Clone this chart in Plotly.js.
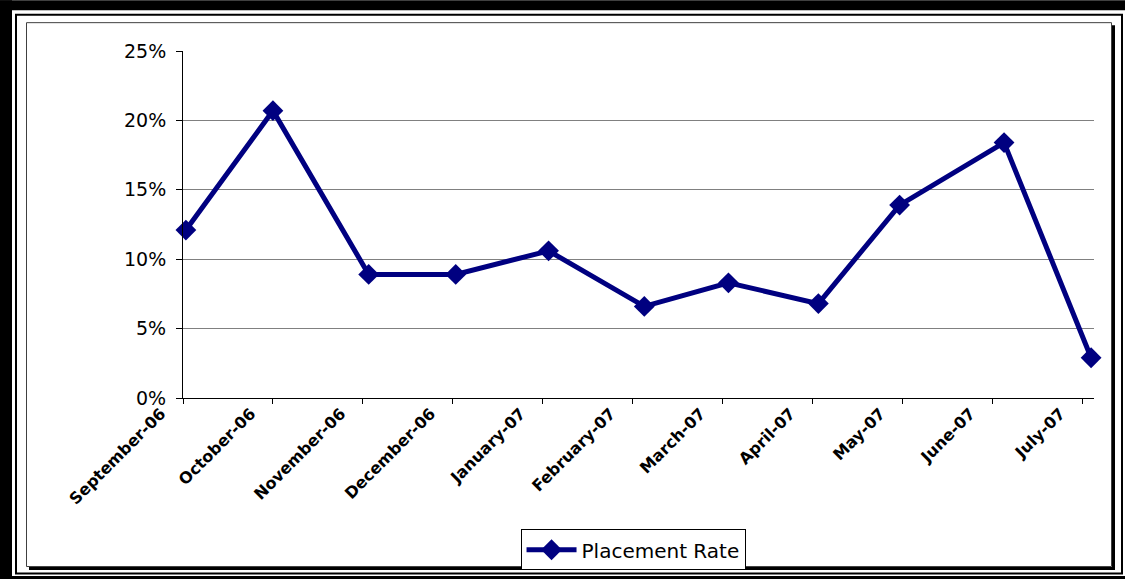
<!DOCTYPE html>
<html>
<head>
<meta charset="utf-8">
<script src="https://cdn.plot.ly/plotly-3.0.1.min.js"></script>
<style>
  html, body { margin: 0; padding: 0; background: #ffffff; }
  #chart { width: 1125px; height: 582px; }
</style>
</head>
<body>
<div id="chart"></div>
<script>
// Monthly placement rate, one reading per month
const reportDates = ['2006-09-02', '2006-10-02', '2006-11-04', '2006-12-04', '2007-01-05',
                     '2007-02-07', '2007-03-08', '2007-04-08', '2007-05-06', '2007-06-11', '2007-07-11'];
const placementRate = [0.121, 0.207, 0.089, 0.089, 0.106, 0.066, 0.083, 0.068, 0.139, 0.184, 0.029];

// Axis ticks, one every 31 days
const tickDates = ['2006-09-01', '2006-10-02', '2006-11-02', '2006-12-03', '2007-01-03', '2007-02-03',
                   '2007-03-06', '2007-04-06', '2007-05-07', '2007-06-07', '2007-07-08'];
const tickLabels = ['September-06', 'October-06', 'November-06', 'December-06', 'January-07', 'February-07',
                    'March-07', 'April-07', 'May-07', 'June-07', 'July-07'];
const seriesName = 'Placement Rate';

const W = 1125, H = 582;
const M = { l: 183, r: 31, t: 51, b: 182 };
const PW = W - M.l - M.r, PH = H - M.t - M.b;
const px = v => (v - M.l) / PW;
const py = v => (H - M.b - v) / PH;

// Frame lines around the chart (page pixels converted to paper units), drawn beneath the plot
function rect(x0, y0, x1, y1, color, width) {
  return { type: 'rect', xref: 'paper', yref: 'paper', layer: 'below',
           x0: px(x0), x1: px(x1), y0: py(y0), y1: py(y1),
           line: { color: color, width: width }, fillcolor: 'rgba(0,0,0,0)' };
}
function bar(x0, y0, x1, y1, color) {
  return { type: 'rect', xref: 'paper', yref: 'paper', layer: 'below',
           x0: px(x0), x1: px(x1), y0: py(y0), y1: py(y1),
           line: { width: 0 }, fillcolor: color };
}
const frame = [
  bar(0, 0, 1125, 10, '#000000'),
  bar(0, 0, 12, 582, '#000000'),
  bar(0, 579, 1125, 582, '#000000'),
  rect(16, 14.5, 1122, 576.5, '#000000', 2),
  // chart area border with its drop shadow
  bar(29, 25, 1115, 573, '#000000'),
  bar(26, 22, 1112, 570, '#ffffff'),
  rect(26.5, 22.5, 1111.5, 569.5, '#404040', 1)
];

const trace = {
  x: reportDates,
  y: placementRate,
  type: 'scatter',
  mode: 'lines+markers',
  name: seriesName,
  line: { color: '#000080', width: 5 },
  marker: { symbol: 'diamond', size: 16, color: '#000080' },
  cliponaxis: false
};

const layout = {
  width: W, height: H,
  margin: M,
  paper_bgcolor: '#ffffff',
  plot_bgcolor: 'rgba(0,0,0,0)',
  showlegend: true,
  font: { family: 'DejaVu Sans, Arial, sans-serif', color: '#000000' },
  xaxis: {
    type: 'date',
    range: ['2006-09-01', '2007-07-12'],
    tickmode: 'array',
    tickvals: tickDates,
    ticktext: tickLabels,
    tickangle: -45,
    ticklabelshift: -22,
    ticklabelstandoff: -6,
    tickfont: { family: 'DejaVu Sans, Arial, sans-serif', size: 16, weight: 'bold', color: '#000000' },
    ticks: 'outside', ticklen: 5, tickcolor: '#000000', tickwidth: 1,
    showline: true, linecolor: '#000000', linewidth: 1,
    showgrid: false, zeroline: false,
    fixedrange: true
  },
  yaxis: {
    range: [0, 0.25],
    dtick: 0.05,
    tickformat: '.0%',
    tickfont: { family: 'DejaVu Sans, Arial, sans-serif', size: 19, color: '#000000' },
    ticks: 'outside', ticklen: 6, tickcolor: '#000000', tickwidth: 1,
    ticklabelstandoff: 6,
    showline: true, linecolor: '#000000', linewidth: 1,
    showgrid: true, gridcolor: '#808080', gridwidth: 1,
    zeroline: false,
    fixedrange: true
  },
  legend: {
    orientation: 'h',
    x: 0.494, xanchor: 'center',
    y: py(532), yanchor: 'top',
    bgcolor: '#ffffff',
    bordercolor: '#000000', borderwidth: 1,
    itemwidth: 50,
    font: { family: 'DejaVu Sans, Arial, sans-serif', size: 20, color: '#000000' }
  },
  shapes: frame
};

Plotly.newPlot('chart', [trace], layout, { displayModeBar: false, staticPlot: true });
</script>
</body>
</html>
